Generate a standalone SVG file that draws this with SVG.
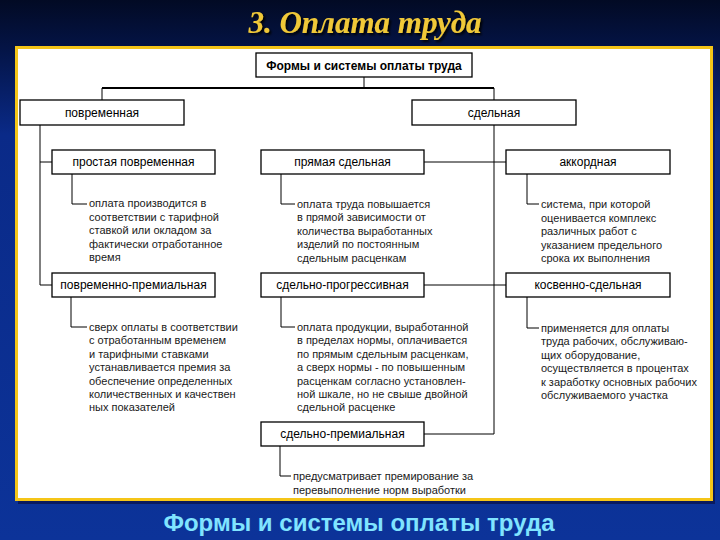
<svg xmlns="http://www.w3.org/2000/svg" width="720" height="540" viewBox="0 0 720 540">
<defs>
<linearGradient id="bg" x1="0" y1="0" x2="0" y2="1">
<stop offset="0" stop-color="#020a24"/>
<stop offset="0.09" stop-color="#041446"/>
<stop offset="0.25" stop-color="#0a2a88"/>
<stop offset="1" stop-color="#0c3399"/>
</linearGradient>
<filter id="shadow" x="-10%" y="-20%" width="120%" height="150%">
<feDropShadow dx="2" dy="2" stdDeviation="0.8" flood-color="#000" flood-opacity="0.9"/>
</filter>
<style>
.box{fill:#fff;stroke:#000;stroke-width:1.3}
.lbl{font-family:"Liberation Sans",Arial,sans-serif;font-size:12px;fill:#000;text-anchor:middle}
.desc{font-family:"Liberation Sans",Arial,sans-serif;font-size:11px;fill:#1a1a1a}
.conn{fill:none;stroke:#000;stroke-width:1}
</style>
</defs>
<rect x="0" y="0" width="720" height="540" fill="url(#bg)"/>
<text x="365" y="33" font-family="'Liberation Serif',serif" font-style="italic" font-weight="bold" font-size="31" text-anchor="middle" fill="#f0c838" filter="url(#shadow)">3. Оплата труда</text>
<rect x="18" y="49" width="697" height="455" fill="#0a1a5e"/>
<rect x="16.5" y="47.5" width="695" height="452" fill="#fff" stroke="#f5c518" stroke-width="3"/>
<text x="359" y="531" font-family="'Liberation Sans',Arial,sans-serif" font-weight="bold" font-size="24" text-anchor="middle" fill="#80e4ff">Формы и системы оплаты труда</text>
<g id="connectors" class="conn">
<path d="M364 77 V88"/>
<path d="M102 88 H494" stroke-width="2"/>
<path d="M102 88 V100 M494 88 V100"/>
<path d="M40 125 V285 H52 M40 162 H52"/>
<path d="M494 125 V434 H424 M424 162 H506 M424 285 H506"/>
<path d="M72 174 V204 H87 M71 297 V327 H87"/>
<path d="M281 174 V204 H295 M281 297 V327 H295 M280 446 V476 H291"/>
<path d="M527 174 V204 H539 M527 297 V328 H539"/>
</g>
<g id="root"><rect class="box" x="256" y="53" width="216" height="24"/><text class="lbl" x="364" y="69.5" font-weight="bold">Формы и системы оплаты труда</text></g>
<g id="povr"><rect class="box" x="20" y="100" width="164" height="25"/><text class="lbl" x="102" y="116.5">повременная</text></g>
<g id="sdel"><rect class="box" x="412" y="100" width="164" height="25"/><text class="lbl" x="494" y="116.5">сдельная</text></g>
<g id="prost"><rect class="box" x="52" y="150" width="163" height="24"/><text class="lbl" x="133.5" y="166">простая  повременная</text></g>
<g id="povrprem"><rect class="box" x="52" y="273" width="163" height="24"/><text class="lbl" x="133.5" y="289">повременно-премиальная</text></g>
<g id="pryam"><rect class="box" x="261" y="150" width="163" height="24"/><text class="lbl" x="342.5" y="166">прямая сдельная</text></g>
<g id="sdprogr"><rect class="box" x="261" y="273" width="163" height="24"/><text class="lbl" x="342.5" y="289">сдельно-прогрессивная</text></g>
<g id="sdprem"><rect class="box" x="261" y="422" width="163" height="24"/><text class="lbl" x="342.5" y="438">сдельно-премиальная</text></g>
<g id="akk"><rect class="box" x="506" y="150" width="164" height="24"/><text class="lbl" x="588" y="166">аккордная</text></g>
<g id="kosv"><rect class="box" x="506" y="273" width="164" height="24"/><text class="lbl" x="588" y="289">косвенно-сдельная</text></g>
<g id="d-prost" class="desc">
<text x="89" y="207">оплата производится в</text>
<text x="89" y="220.5">соответствии с тарифной</text>
<text x="89" y="234">ставкой или окладом за</text>
<text x="89" y="247.5">фактически отработанное</text>
<text x="89" y="261">время</text>
</g>
<g id="d-povrprem" class="desc">
<text x="89" y="331">сверх оплаты в соответствии</text>
<text x="89" y="344.4">с отработанным временем</text>
<text x="89" y="357.8">и тарифными ставками</text>
<text x="89" y="371.2">устанавливается премия за</text>
<text x="89" y="384.6">обеспечение определенных</text>
<text x="89" y="398">количественных и качествен</text>
<text x="89" y="411.4">ных показателей</text>
</g>
<g id="d-pryam" class="desc">
<text x="297" y="207.5">оплата труда повышается</text>
<text x="297" y="221">в прямой зависимости от</text>
<text x="297" y="234.5">количества выработанных</text>
<text x="297" y="248">изделий по постоянным</text>
<text x="297" y="261.5">сдельным расценкам</text>
</g>
<g id="d-sdprogr" class="desc">
<text x="297" y="331">оплата продукции, выработанной</text>
<text x="297" y="344.4">в пределах нормы, оплачивается</text>
<text x="297" y="357.8">по прямым сдельным расценкам,</text>
<text x="297" y="371.2">а сверх нормы - по повышенным</text>
<text x="297" y="384.6">расценкам согласно установлен-</text>
<text x="297" y="398">ной шкале, но не свыше двойной</text>
<text x="297" y="411.4">сдельной расценке</text>
</g>
<g id="d-akk" class="desc">
<text x="541" y="208">система, при которой</text>
<text x="541" y="221.5">оценивается комплекс</text>
<text x="541" y="235">различных работ с</text>
<text x="541" y="248.5">указанием предельного</text>
<text x="541" y="262">срока их выполнения</text>
</g>
<g id="d-kosv" class="desc">
<text x="541" y="332">применяется для оплаты</text>
<text x="541" y="345.4">труда рабочих, обслуживаю-</text>
<text x="541" y="358.8">щих оборудование,</text>
<text x="541" y="372.2">осуществляется в процентах</text>
<text x="541" y="385.6">к заработку основных рабочих</text>
<text x="541" y="399">обслуживаемого участка</text>
</g>
<g id="d-sdprem" class="desc">
<text x="293" y="480">предусматривает премирование за</text>
<text x="293" y="494">перевыполнение норм выработки</text>
</g>
</svg>
